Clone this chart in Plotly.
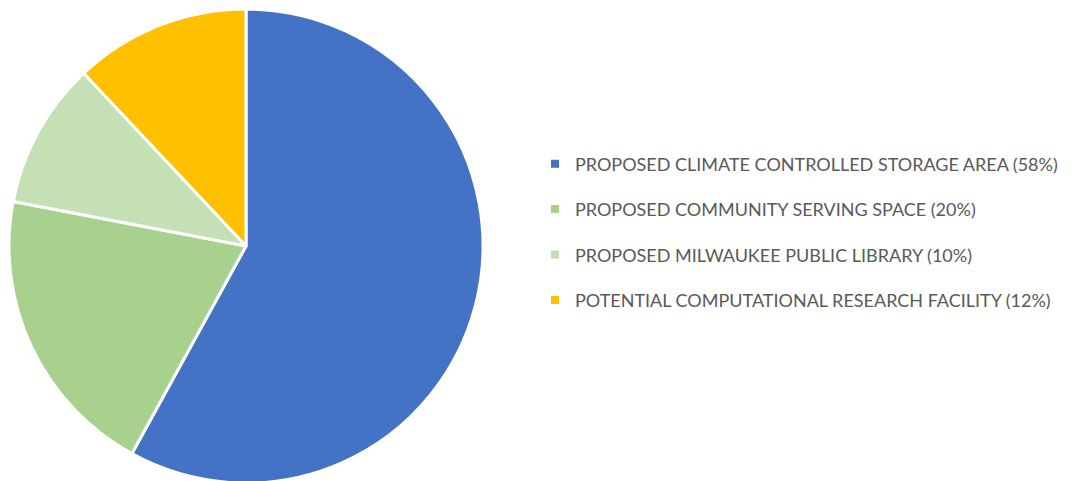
import plotly.graph_objects as go

labels = ["PROPOSED CLIMATE CONTROLLED STORAGE AREA",
          "PROPOSED COMMUNITY SERVING SPACE",
          "PROPOSED MILWAUKEE PUBLIC LIBRARY",
          "POTENTIAL COMPUTATIONAL RESEARCH FACILITY"]
values = [58, 20, 10, 12]
colors = ["#4472C4", "#A9D18E", "#C5E0B4", "#FFC000"]

W, H = 1072, 481
fig = go.Figure()
fig.add_trace(go.Pie(
    labels=labels, values=values, sort=False, direction="clockwise", rotation=0,
    marker=dict(colors=colors, line=dict(color="white", width=3)),
    textinfo="none", hoverinfo="label+percent", showlegend=False,
    domain=dict(x=[0, 476 / W], y=[6 / H, 1 - 1 / H]),
))
for i, (lab, val, col) in enumerate(zip(labels, values, colors)):
    fig.add_trace(go.Scatter(
        x=[None], y=[None], mode="markers",
        marker=dict(symbol="square", size=8, color=col),
        name=f"{lab} ({val}%)", legendgroup=f"g{i}", showlegend=True,
    ))

fig.update_layout(
    width=W, height=H, margin=dict(l=0, r=0, t=0, b=0),
    paper_bgcolor="white", plot_bgcolor="white",
    xaxis=dict(visible=False), yaxis=dict(visible=False),
    font=dict(family="Lato, Noto Sans, sans-serif", size=18, color="#595959"),
    legend=dict(x=527 / W, y=1 - 224 / H, xanchor="left", yanchor="middle",
                tracegroupgap=19, itemwidth=30,
                font=dict(size=18, color="#595959")),
)
fig.write_html("out.html")
